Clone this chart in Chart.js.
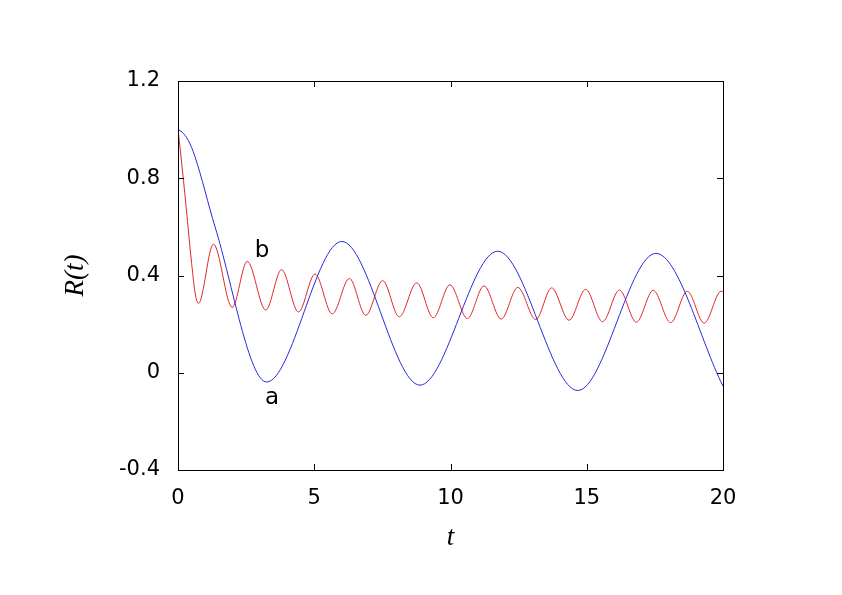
<!DOCTYPE html>
<html lang="en">
<head>
    <meta charset="UTF-8">
    <title>R(t)</title>
    <script src="https://cdn.jsdelivr.net/npm/chart.js"></script>
    <style>
        body { margin: 0; background: #fff; }
        #myChart { display: block; }
    </style>
</head>
<body>
<canvas id="myChart" width="842" height="595"></canvas>

<script>
    // curve a (blue): first descent, then turning points
    const tA = [0, 0.15, 0.38, 0.62, 1.36, 3.25, 6.01, 8.88, 11.73, 14.67, 17.54, 20];
    const rA = [1.0, 0.99, 0.955, 0.89, 0.60, -0.038, 0.540, -0.051, 0.500, -0.073, 0.491, -0.055];

    // curve b (red): start, drop, then the fast wiggles
    const tB = [0, 0.1, 0.3, 0.5, 0.64, 0.75, 1.30, 1.99, 2.54, 3.22, 3.80, 4.42, 5.03, 5.66, 6.29,
        6.89, 7.51, 8.12, 8.76, 9.37, 9.98, 10.62, 11.23, 11.86, 12.47, 13.13, 13.71,
        14.35, 14.96, 15.58, 16.20, 16.82, 17.44, 18.08, 18.69, 19.31, 19.93, 20];
    const rB = [1.0, 0.90, 0.68, 0.45, 0.32, 0.285, 0.529, 0.269, 0.458, 0.258, 0.424, 0.250, 0.406, 0.242, 0.388,
        0.236, 0.379, 0.230, 0.370, 0.226, 0.362, 0.223, 0.357, 0.221, 0.351, 0.219, 0.349,
        0.216, 0.343, 0.210, 0.340, 0.208, 0.339, 0.206, 0.335, 0.204, 0.335, 0.335];

    const xTicks = [0, 5, 10, 15, 20];
    const xTickLabels = ['0', '5', '10', '15', '20'];
    const yTicks = [-0.4, 0, 0.4, 0.8, 1.2];
    const yTickLabels = ['-0.4', '0', '0.4', '0.8', '1.2'];

    // curve names and where they sit (data coords)
    const curveNames = ['a', 'b'];
    const nameAt = [[3.45, -0.105], [3.08, 0.50]];

    const toPts = (xs, ys) => xs.map((x, i) => ({x: x, y: ys[i]}));

    // box + inward ticks on all four sides, and the a/b names
    const framePlugin = {
        id: 'frame',
        afterDraw(chart) {
            const {ctx, chartArea: a, scales: {x, y}} = chart;
            ctx.save();
            ctx.strokeStyle = '#000';
            ctx.lineWidth = 1;
            ctx.strokeRect(a.left + 0.5, a.top + 0.5, a.right - a.left, a.bottom - a.top);
            const tl = 6;
            ctx.beginPath();
            xTicks.forEach(v => {
                const px = Math.round(x.getPixelForValue(v)) + 0.5;
                ctx.moveTo(px, a.bottom); ctx.lineTo(px, a.bottom - tl);
                ctx.moveTo(px, a.top); ctx.lineTo(px, a.top + tl);
            });
            yTicks.forEach(v => {
                const py = Math.round(y.getPixelForValue(v)) + 0.5;
                ctx.moveTo(a.left, py); ctx.lineTo(a.left + tl, py);
                ctx.moveTo(a.right, py); ctx.lineTo(a.right - tl, py);
            });
            ctx.stroke();

            ctx.fillStyle = '#000';
            ctx.font = '23px "DejaVu Sans", sans-serif';
            ctx.textAlign = 'center';
            ctx.textBaseline = 'middle';
            curveNames.forEach((n, i) => {
                ctx.fillText(n, x.getPixelForValue(nameAt[i][0]), y.getPixelForValue(nameAt[i][1]));
            });
            ctx.restore();
        }
    };

    const tickFont = {family: '"DejaVu Sans", sans-serif', size: 21};
    const titleFont = {family: '"Liberation Serif", "Times New Roman", serif', size: 27, style: 'italic'};

    new Chart(document.getElementById('myChart').getContext('2d'), {
        type: 'line',
        data: {
            datasets: [{
                label: 'a',
                data: toPts(tA, rA),
                borderColor: 'rgb(40, 40, 225)',
                borderWidth: 1,
                pointRadius: 0,
                cubicInterpolationMode: 'monotone',
                fill: false
            }, {
                label: 'b',
                data: toPts(tB, rB),
                borderColor: 'rgb(225, 40, 40)',
                borderWidth: 1,
                pointRadius: 0,
                cubicInterpolationMode: 'monotone',
                fill: false
            }]
        },
        options: {
            responsive: false,
            animation: false,
            events: [],
            layout: {padding: {top: 81, right: 119, left: 0, bottom: 0}},
            plugins: {legend: {display: false}, tooltip: {enabled: false}},
            scales: {
                x: {
                    type: 'linear',
                    min: 0, max: 20,
                    afterBuildTicks: s => { s.ticks = xTicks.map(v => ({value: v})); },
                    afterFit: s => { s.height = 125; },
                    grid: {display: false, drawTicks: false},
                    border: {display: false},
                    ticks: {
                        color: '#000', font: tickFont, padding: 16, maxRotation: 0,
                        callback: (v, i) => xTickLabels[i]
                    },
                    title: {display: true, text: 't', color: '#000', font: titleFont, padding: {top: 0, bottom: 41}}
                },
                y: {
                    min: -0.4, max: 1.2,
                    afterBuildTicks: s => { s.ticks = yTicks.map(v => ({value: v})); },
                    afterFit: s => { s.width = 178; },
                    grid: {display: false, drawTicks: false},
                    border: {display: false},
                    ticks: {
                        color: '#000', font: tickFont, padding: 18,
                        callback: (v, i) => yTickLabels[i]
                    },
                    title: {display: true, text: 'R(t)', color: '#000', font: titleFont, padding: {top: 60, bottom: 0}}
                }
            }
        },
        plugins: [framePlugin]
    });
</script>
</body>
</html>
